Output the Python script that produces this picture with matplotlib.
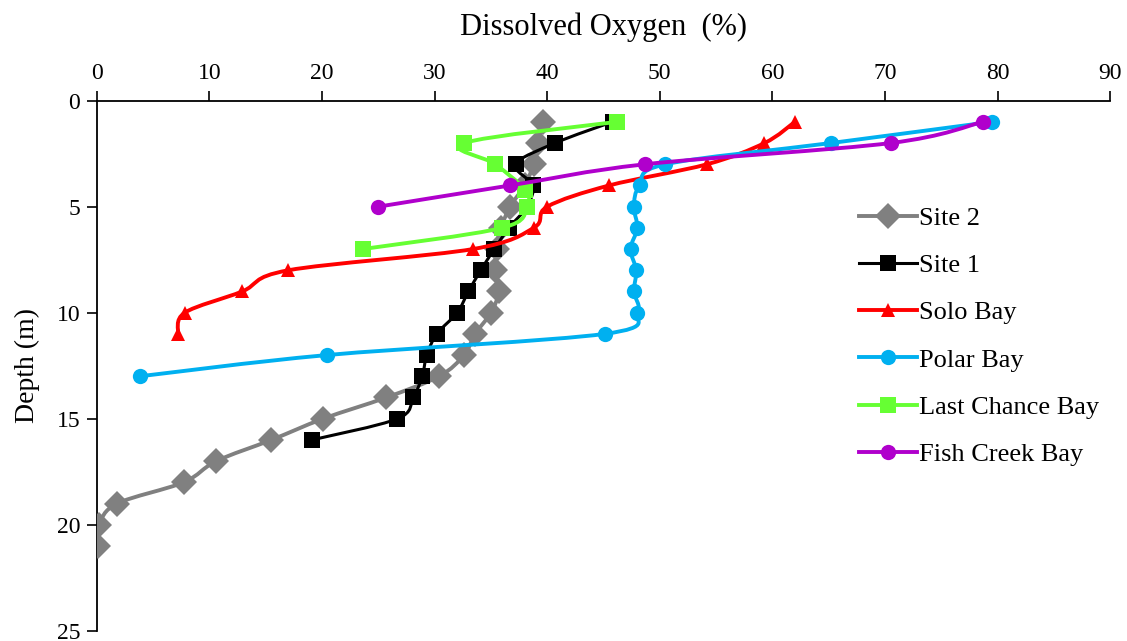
#!/usr/bin/env python3

import matplotlib
matplotlib.use('Agg')
import matplotlib.pyplot as plt
from matplotlib.path import Path
from matplotlib.patches import PathPatch
from matplotlib.lines import Line2D

# dissolved oxygen (%) against depth (m)
site2_depth = [1, 2, 3, 4, 5, 6, 7, 8, 9, 10, 11, 12, 13, 14, 15, 16, 17, 18, 19, 20, 21]
site2_do = [39.6, 39.2, 38.8, 38.0, 36.7, 35.9, 35.5, 35.4, 35.7, 35.0, 33.6, 32.6, 30.4,
            25.7, 20.1, 15.5, 10.6, 7.7, 1.8, 0.2, 0.1]

site1_depth = [1, 2, 3, 4, 5, 6, 7, 8, 9, 10, 11, 12, 13, 14, 15, 16]
site1_do = [45.8, 40.7, 37.2, 38.7, 38.2, 36.6, 35.3, 34.1, 33.0, 32.0, 30.2, 29.3, 28.9,
            28.1, 26.7, 19.1]

solo_depth = [1, 2, 3, 4, 5, 6, 7, 8, 9, 10, 11]
solo_do = [62.0, 59.3, 54.2, 45.5, 40.0, 38.8, 33.4, 17.0, 12.9, 7.8, 7.2]

polar_depth = [1, 2, 3, 4, 5, 6, 7, 8, 9, 10, 11, 12, 13]
polar_do = [79.5, 65.2, 50.5, 48.2, 47.7, 48.0, 47.4, 47.9, 47.7, 48.0, 45.1, 20.4, 3.8]

lastchance_depth = [1, 2, 3, 4.2, 5, 6, 7]
lastchance_do = [46.2, 32.6, 35.4, 38.0, 38.2, 36.0, 23.6]

fishcreek_depth = [1, 2, 3, 4, 5]
fishcreek_do = [78.7, 70.5, 48.7, 36.7, 25.0]

series = [
  ('Site 2', site2_do, site2_depth, '#808080', 'D', 13),
  ('Site 1', site1_do, site1_depth, '#000000', 's', 12),
  ('Solo Bay', solo_do, solo_depth, '#FF0000', '^', 10),
  ('Polar Bay', polar_do, polar_depth, '#00B0F0', 'o', 11),
  ('Last Chance Bay', lastchance_do, lastchance_depth, '#66FF33', 's', 11),
  ('Fish Creek Bay', fishcreek_do, fishcreek_depth, '#B000CC', 'o', 11),
]


def smooth_path(xs, ys):
  # catmull-rom through the points, as cubic bezier segments (like excel "smoothed line")
  pts = list(zip(xs, ys))
  verts = [pts[0]]
  codes = [Path.MOVETO]
  n = len(pts)
  for i in range(n - 1):
    p0 = pts[i - 1] if i > 0 else pts[i]
    p1 = pts[i]
    p2 = pts[i + 1]
    p3 = pts[i + 2] if i + 2 < n else pts[i + 1]
    c1 = (p1[0] + (p2[0] - p0[0]) / 6.0, p1[1] + (p2[1] - p0[1]) / 6.0)
    c2 = (p2[0] - (p3[0] - p1[0]) / 6.0, p2[1] - (p3[1] - p1[1]) / 6.0)
    verts += [c1, c2, p2]
    codes += [Path.CURVE4] * 3
  return Path(verts, codes)


plt.rcParams['font.family'] = ['Liberation Serif', 'DejaVu Serif']

fig = plt.figure(figsize=(11.27, 6.41), dpi=100)
ax = fig.add_axes([0.086, 0.016, 0.899, 0.827])

handles = []
for k, (name, x, y, color, marker, ms) in enumerate(series):
  lw = 2.2 if color == '#000000' else 2.8
  patch = PathPatch(smooth_path(x, y), fill=False, edgecolor=color, lw=lw,
                    capstyle='round', joinstyle='round', zorder=2 + 2 * k)
  ax.add_patch(patch)
  ax.plot(x, y, linestyle='none', marker=marker, markersize=ms, color=color,
          markeredgewidth=0, zorder=3 + 2 * k)
  handles.append(Line2D([], [], color=color, lw=lw, marker=marker, markersize=ms,
                        markeredgewidth=0, label=name))

ax.set_xlim(0, 90)
ax.set_ylim(25, 0)
ax.set_xticks(range(0, 91, 10))
ax.set_yticks(range(0, 26, 5))

ax.xaxis.tick_top()
ax.xaxis.set_label_position('top')
ax.spines['right'].set_visible(False)
ax.spines['bottom'].set_visible(False)
ax.spines['top'].set_linewidth(1.3)
ax.spines['left'].set_linewidth(1.3)
ax.tick_params(direction='out', length=7, width=1.2, labelsize=17, pad=5)

ax.set_xlabel('Dissolved Oxygen  (%)', fontsize=22, labelpad=20)
ax.set_ylabel('Depth (m)', fontsize=20, labelpad=12)

ax.legend(handles=handles, loc='upper left', bbox_to_anchor=(0.729, 0.845),
          frameon=False, fontsize=19, labelspacing=0.9, handlelength=2.2,
          handletextpad=0.05, borderpad=0.4)

fig.savefig('out.png', dpi=100)
